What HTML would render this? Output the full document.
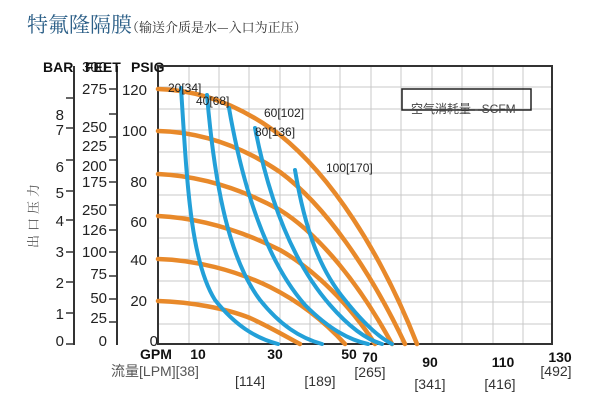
<!DOCTYPE html>
<html><head><meta charset="utf-8"><style>
body{margin:0;background:#fff;}
svg{display:block;font-family:"Liberation Sans","Noto Sans CJK SC",sans-serif;}
</style></head><body>
<svg width="600" height="414" viewBox="0 0 600 414">
<text x="27" y="32" font-size="21" fill="#2d6088" font-family="'Noto Serif CJK SC',serif">特氟隆隔膜</text>
<text x="126" y="32" font-size="13" fill="#333" font-family="'Noto Serif CJK SC',serif">（输送介质是水—入口为正压）</text>
<g stroke="#c8c8c8" stroke-width="1">
<line x1="189" y1="66" x2="189" y2="344"/><line x1="219" y1="66" x2="219" y2="344"/><line x1="249" y1="66" x2="249" y2="344"/><line x1="280" y1="66" x2="280" y2="344"/><line x1="310" y1="66" x2="310" y2="344"/><line x1="340" y1="66" x2="340" y2="344"/><line x1="371" y1="66" x2="371" y2="344"/><line x1="401" y1="66" x2="401" y2="344"/><line x1="432" y1="66" x2="432" y2="344"/><line x1="462" y1="66" x2="462" y2="344"/><line x1="493" y1="66" x2="493" y2="344"/><line x1="523" y1="66" x2="523" y2="344"/>
<line x1="158" y1="87" x2="552" y2="87"/><line x1="158" y1="109" x2="552" y2="109"/><line x1="158" y1="130" x2="552" y2="130"/><line x1="158" y1="152" x2="552" y2="152"/><line x1="158" y1="173" x2="552" y2="173"/><line x1="158" y1="195" x2="552" y2="195"/><line x1="158" y1="216" x2="552" y2="216"/><line x1="158" y1="238" x2="552" y2="238"/><line x1="158" y1="259" x2="552" y2="259"/><line x1="158" y1="281" x2="552" y2="281"/><line x1="158" y1="302" x2="552" y2="302"/><line x1="158" y1="324" x2="552" y2="324"/>
</g>
<rect x="158" y="66" width="394" height="278" fill="none" stroke="#333" stroke-width="2"/>
<g fill="none" stroke="#e8892a" stroke-width="4.5" stroke-linecap="round">
<path d="M158,89 C200,90 240,105 280,135 C330,175 380,250 417,344"/>
<path d="M158,131 C200,132 240,145 280,172 C325,205 370,270 405,344"/>
<path d="M158,174 C200,176 240,188 280,210 C320,235 360,285 392,344"/>
<path d="M158,216 C200,218 240,230 280,250 C315,270 350,305 375,344"/>
<path d="M158,259 C195,260 235,270 270,287 C300,302 325,322 345,344"/>
<path d="M158,301 C190,302 225,308 250,318 C270,327 285,336 300,344"/>
</g>
<g fill="none" stroke="#23a0d8" stroke-width="4" stroke-linecap="round">
<path d="M181,88 C187,180 190,260 215,300 C235,325 255,338 278,344"/>
<path d="M207,95 C215,190 230,260 260,300 C280,325 300,338 322,344"/>
<path d="M229,108 C245,200 270,265 305,305 C330,330 350,340 368,344"/>
<path d="M255,128 C270,205 295,265 330,305 C350,328 368,340 382,344"/>
<path d="M295,170 C305,230 320,270 345,300 C365,325 380,338 392,344"/>
</g>
<g font-size="12" fill="#222">
<text x="168" y="92">20[34]</text><text x="196" y="105">40[68]</text><text x="264" y="117">60[102]</text><text x="255" y="136">80[136]</text><text x="326" y="172">100[170]</text>
</g>
<rect x="402" y="89" width="129" height="21" fill="none" stroke="#222" stroke-width="1.5"/>
<text x="411" y="113" font-size="12" fill="#444">空气消耗量 - SCFM</text>
<g stroke="#333" stroke-width="2" fill="none">
<line x1="74" y1="66" x2="74" y2="345"/><line x1="117" y1="66" x2="117" y2="345"/>
</g>
<g stroke="#333" stroke-width="1.5">
<line x1="66" y1="98" x2="74" y2="98"/><line x1="66" y1="128" x2="74" y2="128"/><line x1="66" y1="160" x2="74" y2="160"/><line x1="66" y1="191" x2="74" y2="191"/><line x1="66" y1="220" x2="74" y2="220"/><line x1="66" y1="252" x2="74" y2="252"/><line x1="66" y1="282" x2="74" y2="282"/><line x1="66" y1="313" x2="74" y2="313"/><line x1="66" y1="344" x2="74" y2="344"/>
<line x1="109" y1="89" x2="117" y2="89"/><line x1="109" y1="114" x2="117" y2="114"/><line x1="109" y1="137" x2="117" y2="137"/><line x1="109" y1="160" x2="117" y2="160"/><line x1="109" y1="182" x2="117" y2="182"/><line x1="109" y1="205" x2="117" y2="205"/><line x1="109" y1="230" x2="117" y2="230"/><line x1="109" y1="252" x2="117" y2="252"/><line x1="109" y1="276" x2="117" y2="276"/><line x1="109" y1="299" x2="117" y2="299"/><line x1="109" y1="322" x2="117" y2="322"/>
</g>
<g font-size="15" fill="#222" text-anchor="end">
<text x="64" y="120">8</text><text x="64" y="135">7</text><text x="64" y="172">6</text><text x="64" y="198">5</text><text x="64" y="226">4</text><text x="64" y="257">3</text><text x="64" y="288">2</text><text x="64" y="319">1</text><text x="64" y="346">0</text>
<text x="107" y="94">275</text><text x="107" y="132">250</text><text x="107" y="151">225</text><text x="107" y="171">200</text><text x="107" y="187">175</text><text x="107" y="215">250</text><text x="107" y="235">126</text><text x="107" y="257">100</text><text x="107" y="279">75</text><text x="107" y="303">50</text><text x="107" y="323">25</text><text x="107" y="346">0</text>
<text x="147" y="95">120</text><text x="147" y="136">100</text><text x="147" y="187">80</text><text x="147" y="227">60</text><text x="147" y="265">40</text><text x="147" y="306">20</text><text x="158" y="346">0</text>
</g>
<text x="107" y="72" font-size="15" fill="#222" text-anchor="end">300</text>
<g font-size="14" font-weight="bold" fill="#111">
<text x="43" y="72">BAR</text><text x="85" y="72">FEET</text><text x="131" y="72">PSIG</text>
</g>
<text x="38" y="180" font-size="13" fill="#555" transform="rotate(-90 38 180)" text-anchor="end" font-family="'Noto Serif CJK SC',serif" letter-spacing="4">出口压力</text>
<g font-size="14" font-weight="bold" fill="#111" text-anchor="middle">
<text x="156" y="359">GPM</text><text x="198" y="359">10</text><text x="275" y="359">30</text><text x="349" y="359">50</text><text x="370" y="362">70</text><text x="430" y="367">90</text><text x="503" y="367">110</text><text x="560" y="362">130</text>
</g>
<g font-size="14" fill="#333" text-anchor="middle">
<text x="155" y="376" font-size="14" fill="#555">流量[LPM][38]</text>
<text x="250" y="386">[114]</text><text x="320" y="386">[189]</text><text x="370" y="377">[265]</text><text x="430" y="389">[341]</text><text x="500" y="389">[416]</text><text x="556" y="376">[492]</text>
</g>
</svg>
</body></html>
